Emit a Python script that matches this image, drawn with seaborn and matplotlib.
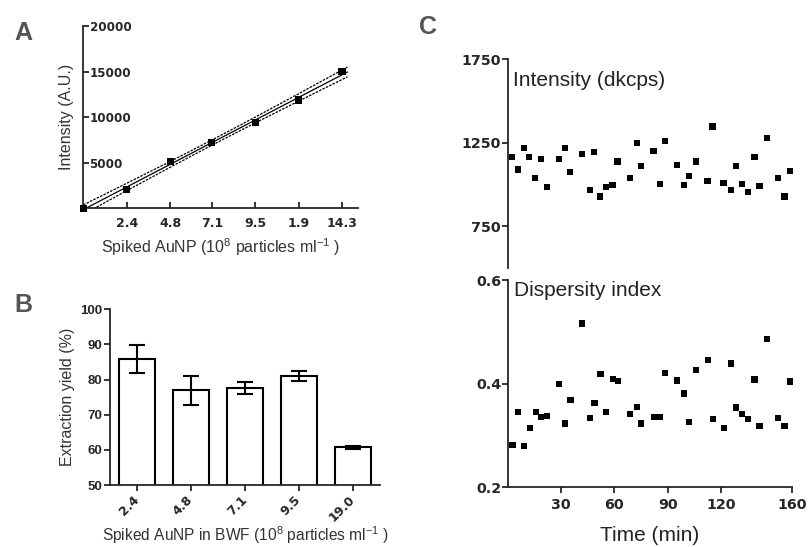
import numpy as np
import pandas as pd
import matplotlib
matplotlib.use("Agg")
import matplotlib.pyplot as plt
import seaborn as sns

# ---------------- data ----------------
# Panel A: calibration
a_conc = [0.0, 2.4, 4.8, 7.1, 9.5, 11.9, 14.3]
a_intensity = [0, 2080, 5120, 7200, 9430, 11880, 14990]
a_xticks = [2.4, 4.8, 7.1, 9.5, 11.9, 14.3]
a_xticklabels = ["2.4", "4.8", "7.1", "9.5", "1.9", "14.3"]
a_yticks = [5000, 10000, 15000, 20000]

# Panel B: extraction yield
b_categories = ["2.4", "4.8", "7.1", "9.5", "19.0"]
b_yield = [85.8, 76.9, 77.7, 81.0, 60.7]
b_err = [3.9, 4.0, 1.7, 1.4, 0.5]
b_yticks = [50, 60, 70, 80, 90, 100]

# Panel C: time series
c_time = [2.5, 5.6, 9.0, 12.2, 15.6, 18.8, 22.2, 28.7, 32.1, 35.3,
          41.9, 46.2, 48.8, 52.2, 55.4, 59.1, 61.9, 68.7, 72.8, 75.2,
          82.2, 85.9, 88.7, 95.3, 99.4, 102.1, 106.0, 112.6, 115.4, 121.6,
          125.9, 128.5, 131.9, 135.3, 139.0, 141.8, 146.0, 152.1, 155.9, 159.1]
c_intensity = [1165, 1089, 1220, 1165, 1040, 1153, 982, 1153, 1220, 1073,
               1184, 966, 1192, 927, 982, 994, 1137, 1040, 1248, 1109,
               1200, 1002, 1258, 1115, 994, 1052, 1137, 1022, 1347, 1010,
               966, 1109, 1000, 952, 1165, 990, 1278, 1040, 927, 1081]
c_dispersity = [0.281, 0.345, 0.279, 0.315, 0.345, 0.336, 0.338, 0.400, 0.323, 0.368,
                0.516, 0.334, 0.363, 0.418, 0.345, 0.409, 0.405, 0.341, 0.355, 0.323,
                0.336, 0.336, 0.421, 0.406, 0.381, 0.326, 0.427, 0.445, 0.332, 0.315,
                0.439, 0.354, 0.341, 0.332, 0.408, 0.318, 0.486, 0.334, 0.318, 0.404]
c_xticks = [30, 60, 90, 120, 160]
c_top_yticks = [750, 1250, 1750]
c_bot_yticks = [0.2, 0.4, 0.6]

# ---------------- style ----------------
sns.set_style("ticks")
plt.rcParams["font.family"] = ["Liberation Sans", "DejaVu Sans"]
plt.rcParams["mathtext.default"] = "regular"
plt.rcParams["axes.linewidth"] = 1.3
plt.rcParams["xtick.major.width"] = 1.3
plt.rcParams["ytick.major.width"] = 1.3

W, H = 810, 547
fig = plt.figure(figsize=(W / 100, H / 100), dpi=100)


def px_axes(left, top, right, bottom):
    return fig.add_axes([left / W, 1 - bottom / H, (right - left) / W, (bottom - top) / H])


label_color = "#333333"
tick_font_wide = dict(family="DejaVu Sans", weight="bold")

# ---------------- Panel A ----------------
axA = px_axes(83.3, 26, 358.3, 208.3)
dfA = pd.DataFrame({"conc": a_conc, "intensity": a_intensity})
slope, intercept = np.polyfit(dfA["conc"], dfA["intensity"], 1)
xf = np.linspace(0, 14.6, 100)
yf = intercept + slope * xf
n = len(a_conc)
resid = dfA["intensity"] - (intercept + slope * dfA["conc"])
s = np.sqrt((resid ** 2).sum() / (n - 2))
xbar = dfA["conc"].mean()
sxx = ((dfA["conc"] - xbar) ** 2).sum()
band = 2.571 * s * np.sqrt(1 / n + (xf - xbar) ** 2 / sxx)
axA.plot(xf, yf, color="black", lw=0.9)
axA.plot(xf, yf + band, color="black", lw=0.9, ls=(0, (2, 1)))
axA.plot(xf, yf - band, color="black", lw=0.9, ls=(0, (2, 1)))
sns.scatterplot(data=dfA, x="conc", y="intensity", ax=axA, marker="s", s=26,
                color="black", edgecolor="none", clip_on=False, zorder=5)
axA.set_xlim(0, 15.2)
axA.set_ylim(0, 20000)
axA.set_xticks(a_xticks)
axA.set_xticklabels(a_xticklabels, fontsize=9, **tick_font_wide)
axA.set_yticks(a_yticks)
axA.set_yticklabels([str(v) for v in a_yticks], fontsize=8.6, **tick_font_wide)
axA.tick_params(axis="both", direction="in", length=4.5)
axA.tick_params(axis="y", pad=-4.5)
axA.tick_params(axis="x", pad=6)
for lbl in axA.get_yticklabels():
    lbl.set_horizontalalignment("left")
axA.set_xlabel("Spiked AuNP (10$^8$ particles ml$^{-1}$ )", fontsize=11.5,
               color=label_color, labelpad=5)
axA.set_ylabel("Intensity (A.U.)", fontsize=11.5, color=label_color, labelpad=7)
sns.despine(ax=axA)

# ---------------- Panel B ----------------
axB = px_axes(110, 309.3, 380, 485)
dfB = pd.DataFrame({"conc": b_categories, "yield": b_yield})
sns.barplot(data=dfB, x="conc", y="yield", ax=axB, color="white",
            edgecolor="black", linewidth=1.5, width=0.67, errorbar=None)
axB.errorbar(x=np.arange(len(b_categories)), y=b_yield, yerr=b_err, fmt="none",
             ecolor="black", elinewidth=1.5, capsize=6, capthick=1.5, zorder=5)
axB.set_xlim(-0.5, 4.5)
axB.set_ylim(50, 100)
axB.set_yticks(b_yticks)
axB.set_yticklabels([str(v) for v in b_yticks], fontsize=9.5,
                    family="Liberation Sans", weight="bold")
axB.set_xticks(np.arange(len(b_categories)))
axB.set_xticklabels(b_categories, rotation=45, ha="right", va="center",
                    rotation_mode="anchor", fontsize=9, **tick_font_wide)
axB.tick_params(axis="both", direction="out", length=4)
axB.tick_params(axis="x", pad=5)
axB.tick_params(axis="y", pad=1.5)
axB.set_xlabel("Spiked AuNP in BWF (10$^8$ particles ml$^{-1}$ )", fontsize=11.2,
               color=label_color, labelpad=0)
axB.set_ylabel("Extraction yield (%)", fontsize=11.5, color=label_color, labelpad=4)
sns.despine(ax=axB)

# ---------------- Panel C ----------------
dfC = pd.DataFrame({"time": c_time, "intensity": c_intensity, "dispersity": c_dispersity})

axC1 = px_axes(507.7, 59.3, 791.7, 267.7)
sns.scatterplot(data=dfC, x="time", y="intensity", ax=axC1, marker="s", s=20,
                color="black", edgecolor="none", clip_on=False)
axC1.set_xlim(0, 160)
axC1.set_ylim(500, 1750)
axC1.set_yticks(c_top_yticks)
axC1.set_yticklabels([str(v) for v in c_top_yticks], fontsize=10.3, **tick_font_wide)
axC1.tick_params(axis="y", direction="out", length=4, pad=1)
axC1.set_xticks([])
axC1.set_xlabel("")
axC1.set_ylabel("")
sns.despine(ax=axC1, bottom=True)
axC1.text(0.02, 0.90, "Intensity (dkcps)", transform=axC1.transAxes, fontsize=15,
          color="#222222", ha="left", va="center")

axC2 = px_axes(508, 280, 791.7, 487.3)
sns.scatterplot(data=dfC, x="time", y="dispersity", ax=axC2, marker="s", s=20,
                color="black", edgecolor="none", clip_on=False)
axC2.set_xlim(0, 160)
axC2.set_ylim(0.2, 0.6)
axC2.set_yticks(c_bot_yticks)
axC2.set_yticklabels([f"{v:.1f}" for v in c_bot_yticks], fontsize=10.3, **tick_font_wide)
axC2.set_xticks(c_xticks)
axC2.set_xticklabels([str(v) for v in c_xticks], fontsize=10.3, **tick_font_wide)
axC2.tick_params(axis="both", direction="out", length=4)
axC2.tick_params(axis="y", pad=1)
axC2.set_ylabel("")
axC2.set_xlabel("Time (min)", fontsize=15, color="#222222", labelpad=10)
sns.despine(ax=axC2)
axC2.text(0.02, 0.95, "Dispersity index", transform=axC2.transAxes, fontsize=15,
          color="#222222", ha="left", va="center")

# ---------------- panel letters ----------------
for letter, (lx, ly) in {"A": (23, 33), "B": (23, 305), "C": (428, 27)}.items():
    fig.text(lx / W, 1 - ly / H, letter, fontsize=18, weight="bold", color="#555555",
             ha="center", va="center")

fig.savefig("out.png", dpi=100)
